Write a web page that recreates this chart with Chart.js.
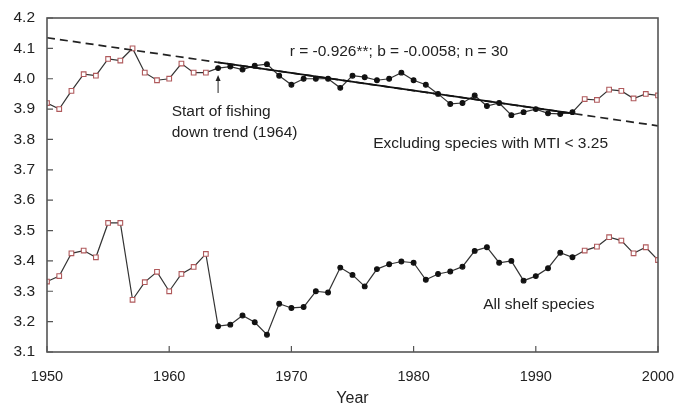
<!DOCTYPE html>
<html>
<head>
<meta charset="utf-8">
<script src="https://cdn.jsdelivr.net/npm/chart.js@4/dist/chart.umd.min.js"></script>
<style>
  html, body { margin: 0; padding: 0; background: #fff; }
  #wrap { width: 680px; height: 412px; }
</style>
</head>
<body>
<div id="wrap"><canvas id="mti"></canvas></div>
<script>
const years = [];
for (let y = 1950; y <= 2000; y++) years.push(y);

// excluding species with MTI < 3.25
const excludingLow = [
  3.92, 3.90, 3.96, 4.015, 4.01, 4.065, 4.06, 4.10, 4.02, 3.995,
  4.00, 4.05, 4.02, 4.02, 4.035, 4.04, 4.03, 4.043, 4.048, 4.01,
  3.98, 4.00, 4.00, 4.00, 3.97, 4.01, 4.005, 3.995, 4.00, 4.02,
  3.995, 3.98, 3.95, 3.917, 3.92, 3.945, 3.91, 3.92, 3.88, 3.89,
  3.90, 3.886, 3.884, 3.89, 3.933, 3.93, 3.964, 3.96, 3.935, 3.95,
  3.945
];

// all shelf species
const allShelf = [
  3.332, 3.35, 3.425, 3.434, 3.412, 3.525, 3.525, 3.272, 3.33, 3.364,
  3.30, 3.357, 3.38, 3.423, 3.185, 3.19, 3.22, 3.198, 3.157, 3.259,
  3.245, 3.248, 3.30, 3.296, 3.378, 3.354, 3.316, 3.373, 3.389, 3.398,
  3.394, 3.338, 3.357, 3.365, 3.381, 3.433, 3.445, 3.394, 3.40, 3.335,
  3.35, 3.376, 3.427, 3.412, 3.434, 3.447, 3.478, 3.467, 3.425, 3.445,
  3.403
];

// fitted fishing-down trend (1964-1993) and its extension
const trendYears = [1950, 2000];
const trendValues = [4.135, 3.845];
const fitYears = [1964, 1993];
const fitValues = [4.054, 3.886];

const yTicks = [3.1, 3.2, 3.3, 3.4, 3.5, 3.6, 3.7, 3.8, 3.9, 4.0, 4.1, 4.2];
const xTicks = [1950, 1960, 1970, 1980, 1990, 2000];

const fishStart = 1964;
const fishEnd = 1993;

const FONT = "'Liberation Sans', Arial, sans-serif";
const RED = '#b05a5c';

function toPoints(xs, ys) {
  return xs.map((x, i) => ({ x: x, y: ys[i] }));
}

function inFishing(ctx) {
  const yr = years[ctx.dataIndex];
  return yr >= fishStart && yr <= fishEnd;
}

const seriesStyle = {
  borderColor: '#333',
  borderWidth: 1.2,
  pointStyle: (ctx) => (inFishing(ctx) ? 'circle' : 'rect'),
  pointRadius: (ctx) => (inFishing(ctx) ? 2.4 : 3.3),
  pointBackgroundColor: (ctx) => (inFishing(ctx) ? '#111' : '#fff'),
  pointBorderColor: (ctx) => (inFishing(ctx) ? '#111' : RED),
  pointBorderWidth: 1.1,
  tension: 0,
};

// frame, inner tick marks, annotations
const decorations = {
  id: 'decorations',
  afterDraw(chart) {
    const { ctx, chartArea: a, scales } = chart;
    const xs = scales.x;
    const ys = scales.y;
    ctx.save();
    ctx.strokeStyle = '#555';
    ctx.lineWidth = 1.6;
    ctx.strokeRect(a.left, a.top, a.right - a.left, a.bottom - a.top);

    ctx.lineWidth = 1.2;
    ctx.beginPath();
    yTicks.forEach((v) => {
      const py = ys.getPixelForValue(v);
      ctx.moveTo(a.left, py);
      ctx.lineTo(a.left + 6, py);
    });
    xTicks.forEach((v) => {
      const px = xs.getPixelForValue(v);
      ctx.moveTo(px, a.bottom);
      ctx.lineTo(px, a.bottom - 6);
    });
    ctx.stroke();

    // arrow at start of fishing down
    const ax = xs.getPixelForValue(1964);
    const aTop = ys.getPixelForValue(4.012);
    const aBot = ys.getPixelForValue(3.953);
    ctx.strokeStyle = '#222';
    ctx.lineWidth = 1;
    ctx.beginPath();
    ctx.moveTo(ax, aBot);
    ctx.lineTo(ax, aTop + 3);
    ctx.stroke();
    ctx.fillStyle = '#222';
    ctx.beginPath();
    ctx.moveTo(ax, aTop);
    ctx.lineTo(ax - 2.5, aTop + 6);
    ctx.lineTo(ax + 2.5, aTop + 6);
    ctx.closePath();
    ctx.fill();

    ctx.fillStyle = '#222';
    ctx.font = '15.5px ' + FONT;
    ctx.textBaseline = 'middle';
    ctx.textAlign = 'center';
    ctx.fillText('r = -0.926**; b = -0.0058; n = 30',
      xs.getPixelForValue(1978.8), ys.getPixelForValue(4.088));
    ctx.textAlign = 'left';
    ctx.fillText('Start of fishing', xs.getPixelForValue(1960.2), ys.getPixelForValue(3.890));
    ctx.fillText('down trend (1964)', xs.getPixelForValue(1960.2), ys.getPixelForValue(3.821));
    ctx.fillText('Excluding species with MTI < 3.25',
      xs.getPixelForValue(1976.7), ys.getPixelForValue(3.785));
    ctx.fillText('All shelf species', xs.getPixelForValue(1985.7), ys.getPixelForValue(3.255));
    ctx.restore();
  },
};

new Chart(document.getElementById('mti'), {
  type: 'line',
  data: {
    datasets: [
      {
        data: toPoints(fitYears, fitValues),
        borderColor: '#111',
        borderWidth: 1.8,
        pointRadius: 0,
      },
      {
        data: toPoints(trendYears, trendValues),
        borderColor: '#222',
        borderWidth: 1.7,
        borderDash: [8, 5],
        pointRadius: 0,
      },
      Object.assign({ data: toPoints(years, excludingLow) }, seriesStyle),
      Object.assign({ data: toPoints(years, allShelf) }, seriesStyle),
    ],
  },
  options: {
    responsive: true,
    maintainAspectRatio: false,
    animation: false,
    layout: { padding: { left: 0, top: 18, right: 22, bottom: 0 } },
    plugins: { legend: { display: false }, tooltip: { enabled: false } },
    scales: {
      x: {
        type: 'linear',
        min: 1950,
        max: 2000,
        afterFit: (s) => {
          s.height = 60;
          s.paddingLeft = 0;
          s.paddingRight = 0;
        },
        afterBuildTicks: (s) => { s.ticks = xTicks.map((v) => ({ value: v })); },
        grid: { display: false, drawTicks: false },
        border: { display: false },
        ticks: {
          padding: 16,
          color: '#222',
          font: { family: FONT, size: 14.5 },
          callback: (v) => String(v),
        },
        title: {
          display: true,
          text: 'Year',
          color: '#222',
          font: { family: FONT, size: 16 },
          padding: { top: 0, bottom: 4 },
        },
      },
      y: {
        min: 3.1,
        max: 4.2,
        afterFit: (s) => {
          s.width = 47;
          s.paddingTop = 0;
          s.paddingBottom = 0;
        },
        afterBuildTicks: (s) => { s.ticks = yTicks.map((v) => ({ value: v })); },
        grid: { display: false, drawTicks: false },
        border: { display: false },
        ticks: {
          padding: 12,
          color: '#222',
          font: { family: FONT, size: 15.5 },
          callback: (v) => Number(v).toFixed(1),
        },
      },
    },
  },
  plugins: [decorations],
});
</script>
</body>
</html>
